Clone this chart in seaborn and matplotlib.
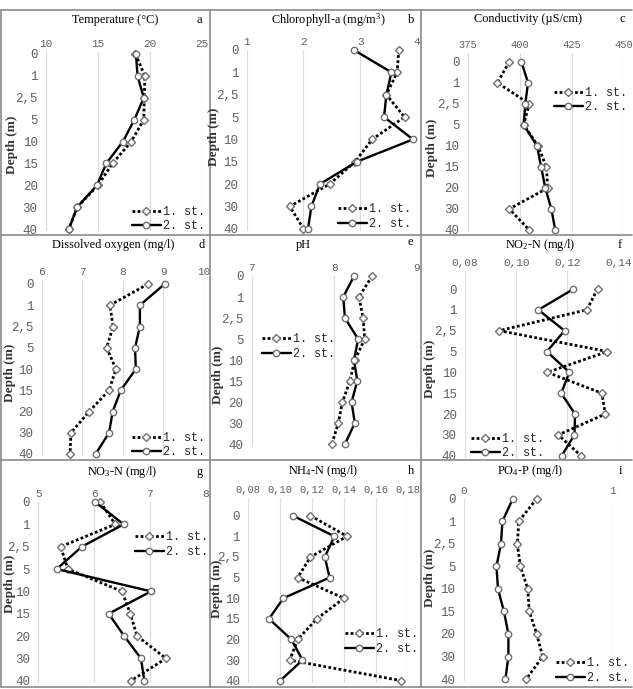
import matplotlib
matplotlib.use("Agg")
import matplotlib.pyplot as plt
import seaborn as sns
import numpy as np
import pandas as pd
from matplotlib.lines import Line2D

sns.set_theme(style="white")
plt.rcParams['font.family'] = ['Liberation Serif', 'DejaVu Serif']
plt.rcParams['mathtext.fontset'] = 'custom'
plt.rcParams['mathtext.rm'] = 'Liberation Serif'
plt.rcParams['mathtext.it'] = 'Liberation Serif:italic'

W, H = 633, 689

depth_labels = ["0", "1", "2,5", "5", "10", "15", "20", "30", "40"]
station_labels = ["1. st.", "2. st."]

temp_st1 = [18.6, 19.5, 19.45, 19.4, 18.2, 16.4, 15.0, 13.0, 12.2]
temp_st2 = [18.65, 18.8, 19.4, 18.5, 17.4, 15.8, 14.9, 13.0, 12.2]
chl_st1 = [3.68, 3.65, 3.46, 3.78, 3.21, 2.91, 2.46, 1.76, 2.0]
chl_st2 = [2.89, 3.55, 3.46, 3.42, 3.93, 2.94, 2.29, 2.14, 2.08]
cond_st1 = [395.0, 389.3, 404.6, 401.9, 408.8, 412.8, 413.5, 395.0, 404.6]
cond_st2 = [400.8, 404.0, 402.7, 401.9, 408.3, 410.3, 412.3, 415.2, 417.1]
do_st1 = [8.62, 7.68, 7.76, 7.60, 7.83, 7.66, 7.17, 6.72, 6.70]
do_st2 = [9.03, 8.42, 8.42, 8.30, 8.32, 7.95, 7.75, 7.66, 7.33]
ph_st1 = [8.46, 8.30, 8.35, 8.37, 8.25, 8.19, 8.10, 8.05, 7.97]
ph_st2 = [8.24, 8.11, 8.13, 8.29, 8.24, 8.28, 8.21, 8.25, 8.13]
no2_st1 = [0.1318, 0.1276, 0.0934, 0.1357, 0.1122, 0.1335, 0.1348, 0.1165, 0.1253]
no2_st2 = [0.1224, 0.1087, 0.1189, 0.1120, 0.1208, 0.1176, 0.1230, 0.1228, 0.1178]
no3_st1 = [6.11, 6.38, 5.40, 5.53, 6.50, 6.65, 6.77, 7.29, 6.66]
no3_st2 = [6.02, 6.53, 5.78, 5.33, 7.02, 6.26, 6.54, 6.84, 6.90]
nh4_st1 = [0.119, 0.142, 0.119, 0.111, 0.140, 0.123, 0.111, 0.106, 0.176]
nh4_st2 = [0.108, 0.134, 0.128, 0.131, 0.102, 0.093, 0.107, 0.114, 0.100]
po4_st1 = [0.49, 0.37, 0.36, 0.38, 0.43, 0.44, 0.49, 0.53, 0.42]
po4_st2 = [0.33, 0.26, 0.25, 0.22, 0.23, 0.27, 0.30, 0.30, 0.28]

titles = ["Temperature (°C)", "Chlorophyll-a (mg/m$^3$)", "Conductivity (µS/cm)",
          "Dissolved oxygen (mg/l)", "pH", "NO$_2$-N (mg/l)",
          "NO$_3$-N (mg/l)", "NH$_4$-N (mg/l)", "PO$_4$-P (mg/l)"]
letters = ["a", "b", "c", "d", "e", "f", "g", "h", "i"]
xticks = [[10, 15, 20, 25], [1, 2, 3, 4], [375, 400, 425, 450],
          [6, 7, 8, 9, 10], [7, 8, 9], [0.08, 0.10, 0.12, 0.14],
          [5, 6, 7, 8], [0.08, 0.10, 0.12, 0.14, 0.16, 0.18], [0, 1]]
xticklabels = [["10", "15", "20", "25"], ["1", "2", "3", "4"], ["375", "400", "425", "450"],
               ["6", "7", "8", "9", "10"], ["7", "8", "9"], ["0,08", "0,10", "0,12", "0,14"],
               ["5", "6", "7", "8"], ["0,08", "0,10", "0,12", "0,14", "0,16", "0,18"], ["0", "1"]]
series = [(temp_st1, temp_st2), (chl_st1, chl_st2), (cond_st1, cond_st2),
          (do_st1, do_st2), (ph_st1, ph_st2), (no2_st1, no2_st2),
          (no3_st1, no3_st2), (nh4_st1, nh4_st2), (po4_st1, po4_st2)]

# layout in pixels: x0, x1, y_row0, y_row8, y_ticklabels
layout = [(46, 202, 54, 229, 45), (246.7, 417, 45.3, 228.7, 43), (467.7, 623.7, 61.7, 230, 45.7),
          (41.7, 204, 284, 454, 273), (251.7, 416.7, 270.7, 444, 269), (465, 618.5, 289, 455.7, 264),
          (38.3, 205.7, 497.3, 680.7, 495), (248.3, 407.7, 515.7, 680.7, 491), (463.7, 612.7, 494.3, 679, 491.7)]
xtick_size = [8, 8, 7.5, 8, 8, 8, 8, 7.5, 8]
title_pos = [(115, 20), (328, 20), (528, 19), (113, 245), (303, 245), (540, 245),
             (122, 472), (323, 471), (530, 471)]
letter_pos = [(199, 20), (411, 20), (622, 19), (202, 245), (410, 242), (620, 245),
              (200, 472), (411, 471), (620, 471)]
ylabel_pos = [(12, 145), (214, 137), (432, 148), (10, 373), (218, 375), (430, 369),
              (10, 584), (217, 589), (430, 578)]
legend_pos = [(132, 219), (338, 216.5), (554, 100), (132, 445), (262, 346.5), (471, 446),
              (135, 544.5), (345, 641.5), (556, 670.5)]

fig = plt.figure(figsize=(W / 100, H / 100), dpi=100)
fig.patch.set_facecolor("white")

tick_color = "#606060"
pos = np.arange(len(depth_labels))

for k in range(9):
    x0, x1, y0, y8, ylab = layout[k]
    T = ylab + 7
    B = y8 + 2
    s = (y8 - y0) / 8.0
    ax = fig.add_axes([x0 / W, 1 - B / H, (x1 - x0) / W, (B - T) / H])
    ax.set_facecolor("none")
    st1, st2 = series[k]
    df1 = pd.DataFrame({"value": st1, "pos": pos})
    df2 = pd.DataFrame({"value": st2, "pos": pos})
    sns.lineplot(data=df1, x="value", y="pos", orient="y", sort=False, estimator=None,
                 ax=ax, color="black", lw=2.0, linestyle=(0, (1, 0.85)),
                 dash_capstyle="butt", marker="D", markersize=3.8,
                 markerfacecolor="white", markeredgecolor="#707070",
                 markeredgewidth=1.0, clip_on=False)
    sns.lineplot(data=df2, x="value", y="pos", orient="y", sort=False, estimator=None,
                 ax=ax, color="black", lw=1.7, marker="o", markersize=4.6,
                 markerfacecolor="white", markeredgecolor="#707070",
                 markeredgewidth=1.0, clip_on=False)
    ax.set_xlim(xticks[k][0], xticks[k][-1])
    ax.set_ylim(8 + (B - y8) / s, -(y0 - T) / s)
    ax.set_xticks(xticks[k])
    ax.set_xticklabels(xticklabels[k], fontdict={"family": "Liberation Mono", "size": xtick_size[k]},
                       color=tick_color)
    ax.set_yticks(pos)
    ax.set_yticklabels(depth_labels, fontdict={"family": "Liberation Mono", "size": 9},
                       color=tick_color)
    ax.xaxis.tick_top()
    ax.tick_params(axis="x", length=0, pad=2)
    ax.tick_params(axis="y", length=0, pad=6)
    ax.set_xlabel("")
    ax.set_ylabel("")
    for sp in ax.spines.values():
        sp.set_visible(False)
    ax.grid(True, axis="x", color="#dcdcdc", lw=0.9)
    ax.grid(False, axis="y")
    ax.set_axisbelow(True)
    if ax.get_legend() is not None:
        ax.get_legend().remove()
    lines = ax.get_lines()
    lx, ly = legend_pos[k]
    leg = ax.legend(handles=[lines[0], lines[1]], labels=station_labels,
                    loc="center left", bbox_to_anchor=(lx / W, 1 - ly / H),
                    bbox_transform=fig.transFigure, frameon=False,
                    prop={"family": "Liberation Mono", "size": 8.5},
                    handlelength=2.45, handletextpad=0.15, borderpad=0,
                    labelspacing=0.2, borderaxespad=0, numpoints=1)
    for t in leg.get_texts():
        t.set_color("#262626")

    tx, ty = title_pos[k]
    fig.text(tx / W, 1 - ty / H, titles[k], ha="center", va="center", fontsize=8.8, color="black")
    lx2, ly2 = letter_pos[k]
    fig.text(lx2 / W, 1 - ly2 / H, letters[k], ha="center", va="center", fontsize=9, color="black")
    yx, yy = ylabel_pos[k]
    fig.text(yx / W, 1 - yy / H, "Depth (m)", ha="center", va="center", rotation=90,
             fontsize=9.5, fontweight="bold", color="#333333")

# panel borders
bc = "#8a8a8a"
for yb in [10, 235, 460, 687]:
    fig.add_artist(Line2D([1 / W, 632 / W], [1 - yb / H, 1 - yb / H], color=bc, lw=1.2,
                          transform=fig.transFigure))
for xb in [1, 210, 421]:
    fig.add_artist(Line2D([xb / W, xb / W], [1 - 10 / H, 1 - 687 / H], color=bc, lw=1.2,
                          transform=fig.transFigure))

fig.savefig("out.png", dpi=100)
